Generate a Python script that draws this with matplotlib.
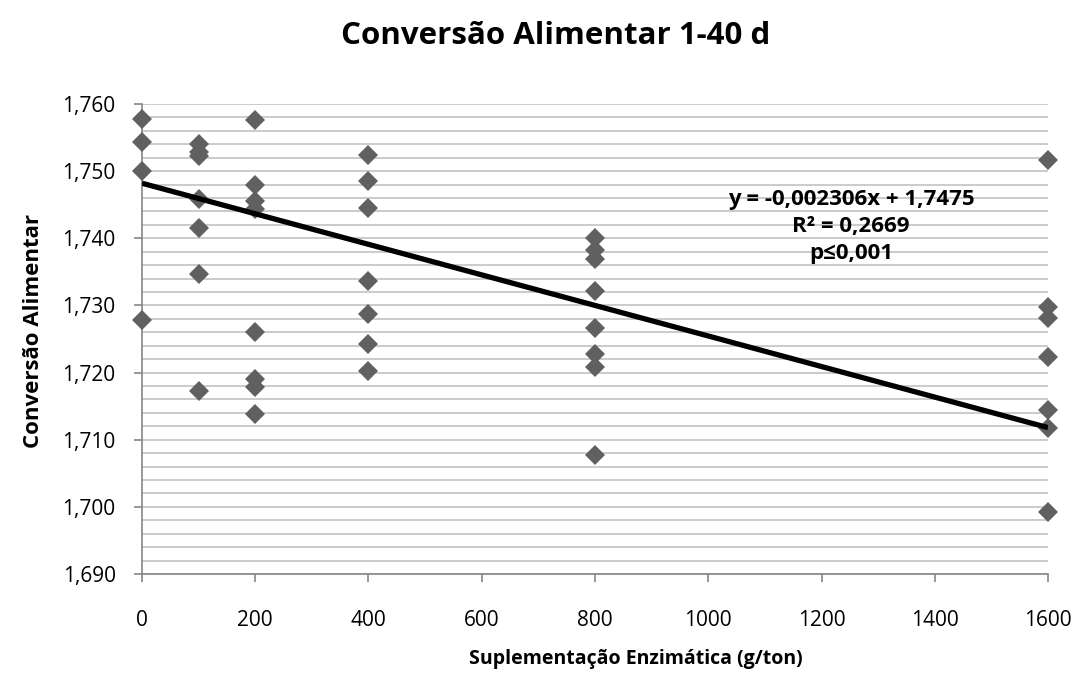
import numpy as np
import matplotlib
matplotlib.use("Agg")
import matplotlib.pyplot as plt
from matplotlib.ticker import MultipleLocator

plt.rcParams['font.family'] = ['Open Sans', 'DejaVu Sans']

# values
doses = [0, 100, 200, 400, 800, 1600]
ca_0 = [1.7578, 1.7543, 1.7500, 1.7278]
ca_100 = [1.7540, 1.7528, 1.7523, 1.7458, 1.7415, 1.7347, 1.7172]
ca_200 = [1.7576, 1.7479, 1.7456, 1.7444, 1.7261, 1.7190, 1.7178, 1.7139]
ca_400 = [1.7524, 1.7486, 1.7445, 1.7337, 1.7287, 1.7242, 1.7203]
ca_800 = [1.7400, 1.7383, 1.7369, 1.7322, 1.7266, 1.7228, 1.7209, 1.7077]
ca_1600 = [1.7517, 1.7297, 1.7282, 1.7223, 1.7144, 1.7117, 1.6993]

trend_x = [0, 1600]
trend_y = [1.7482, 1.7118]

x_ticks = [0, 200, 400, 600, 800, 1000, 1200, 1400, 1600]
y_ticks = [1.690, 1.700, 1.710, 1.720, 1.730, 1.740, 1.750, 1.760]
y_labels = ["1,690", "1,700", "1,710", "1,720", "1,730", "1,740", "1,750", "1,760"]

eq_text = "y = -0,002306x + 1,7475\nR² = 0,2669\np≤0,001"

groups = [ca_0, ca_100, ca_200, ca_400, ca_800, ca_1600]
xs = []
ys = []
for d, g in zip(doses, groups):
    xs += [d] * len(g)
    ys += g

fig = plt.figure(figsize=(10.83, 6.77), dpi=100)
ax = fig.add_axes([0.1311, 0.1521, 0.8366, 0.6943])

ax.set_xlim(0, 1600)
ax.set_ylim(1.690, 1.760)

ax.yaxis.set_minor_locator(MultipleLocator(0.002))
ax.grid(True, which="both", axis="y", color="#bdbdbd", linewidth=1.1)
ax.set_axisbelow(True)

ax.plot(xs, ys, linestyle="none", marker="D", markersize=10,
        color="#606060", markeredgewidth=0, clip_on=False, zorder=3)
ax.plot(trend_x, trend_y, color="black", linewidth=3.8,
        solid_capstyle="butt", zorder=4)

ax.set_xticks(x_ticks)
ax.set_xticklabels([str(v) for v in x_ticks])
ax.set_yticks(y_ticks)
ax.set_yticklabels(y_labels)

for s in ["top", "right"]:
    ax.spines[s].set_visible(False)
for s in ["left", "bottom"]:
    ax.spines[s].set_color("#868686")
    ax.spines[s].set_linewidth(1.2)

ax.tick_params(axis="both", which="major", direction="out", length=6,
               color="#868686", width=1.2, labelsize=15, labelcolor="black")
ax.tick_params(axis="x", pad=20)
ax.tick_params(axis="y", pad=13)
ax.tick_params(axis="y", which="minor", length=0)

ax.text(0.7826, 0.740, eq_text, transform=ax.transAxes, ha="center",
        va="center", fontsize=16, fontweight="bold", linespacing=1.38)

fig.text(0.513, 0.947, "Conversão Alimentar 1-40 d", ha="center",
         va="center", fontsize=22.5, fontweight="bold")
fig.text(0.587, 0.027, "Suplementação Enzimática (g/ton)", ha="center",
         va="center", fontsize=14, fontweight="bold")
fig.text(0.031, 0.511, "Conversão Alimentar", ha="center", va="center",
         rotation=90, fontsize=16, fontweight="bold")

fig.savefig("out.png", dpi=100)
